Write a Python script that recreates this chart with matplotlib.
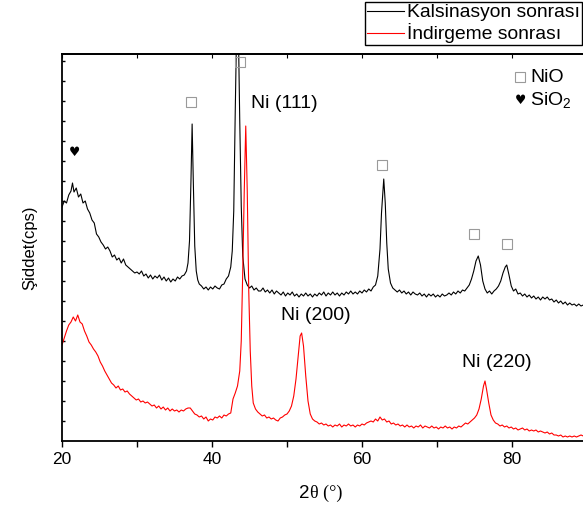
import matplotlib
matplotlib.use("Agg")
import matplotlib.pyplot as plt

plt.rcParams['font.family'] = ['Liberation Sans', 'DejaVu Sans']
plt.rcParams['mathtext.fontset'] = 'custom'
plt.rcParams['mathtext.rm'] = 'Liberation Sans'
plt.rcParams['mathtext.it'] = 'Liberation Sans'

# ---- data: Kalsinasyon sonrası (black) ----
kal_x = [20.0, 20.3, 20.6, 20.9, 21.2, 21.4, 21.6, 21.9, 22.2, 22.5, 22.8, 23.1, 23.4, 23.7, 24.0, 24.3, 24.6, 24.9,
         25.2, 25.5, 25.8, 26.1, 26.4, 26.7, 27.0, 27.3, 27.6, 27.9, 28.2, 28.5, 28.8, 29.1, 29.4, 29.7, 30.0,
         30.3, 30.6, 30.9, 31.2, 31.5, 31.8, 32.1, 32.4, 32.7, 33.0, 33.3, 33.6, 33.9, 34.2, 34.5, 34.8, 35.1,
         35.4, 35.7, 36.0, 36.3, 36.6, 36.8, 37.0, 37.2, 37.35, 37.5, 37.7, 37.9, 38.1, 38.3, 38.6, 38.9, 39.2,
         39.5, 39.8, 40.1, 40.4, 40.7, 41.0, 41.3, 41.6, 41.9, 42.2, 42.5, 42.7, 42.9, 43.1, 43.3, 43.5, 43.7,
         43.9, 44.1, 44.4, 44.7, 45.0, 45.3, 45.6, 45.9, 46.2, 46.5, 46.8, 47.1, 47.4, 47.7, 48.0, 48.3, 48.6,
         48.9, 49.2, 49.5, 49.8, 50.1, 50.4, 50.7, 51.0, 51.3, 51.6, 51.9, 52.2, 52.5, 52.8, 53.1, 53.4, 53.7,
         54.0, 54.3, 54.6, 54.9, 55.2, 55.5, 55.8, 56.1, 56.4, 56.7, 57.0, 57.3, 57.6, 57.9, 58.2, 58.5, 58.8,
         59.1, 59.4, 59.7, 60.0, 60.3, 60.6, 60.9, 61.2, 61.5, 61.8, 62.1, 62.4, 62.6, 62.9, 63.1, 63.3, 63.5,
         63.8, 64.1, 64.4, 64.7, 65.0, 65.3, 65.6, 65.9, 66.2, 66.5, 66.8, 67.1, 67.4, 67.7, 68.0, 68.3, 68.6,
         68.9, 69.2, 69.5, 69.8, 70.1, 70.4, 70.7, 71.0, 71.3, 71.6, 71.9, 72.2, 72.5, 72.8, 73.1, 73.4, 73.7,
         74.0, 74.3, 74.6, 74.9, 75.2, 75.5, 75.8, 76.1, 76.4, 76.7, 77.0, 77.3, 77.6, 77.9, 78.2, 78.5, 78.8,
         79.1, 79.3, 79.6, 79.9, 80.2, 80.5, 80.8, 81.1, 81.4, 81.7, 82.0, 82.3, 82.6, 82.9, 83.2, 83.5, 83.8,
         84.1, 84.4, 84.7, 85.0, 85.3, 85.6, 85.9, 86.2, 86.5, 86.8, 87.1, 87.4, 87.7, 88.0, 88.3, 88.6, 88.9,
         89.2, 89.5, 89.8, 90.0]
kal_y = [234, 240, 238, 246, 250, 258, 249, 253, 244, 247, 238, 240, 232, 228, 221, 218, 207, 204,
         199, 196, 192, 194, 190, 184, 186, 181, 183, 178, 182, 176, 174, 172, 170, 168, 169,
         167, 170, 165, 167, 163, 166, 162, 165, 163, 166, 161, 164, 160, 163, 159, 162, 160,
         164, 162, 165, 166, 170, 178, 200, 262, 317, 262, 195, 170, 161, 157, 155, 152, 154,
         151, 154, 152, 155, 153, 152, 156, 157, 162, 165, 174, 190, 230, 330, 420, 420, 320,
         235, 185, 162, 156, 153, 155, 151, 153, 150, 150, 153, 149, 151, 148, 151, 147, 150,
         148, 146, 149, 145, 148, 146, 149, 145, 147, 144, 147, 145, 148, 145, 147, 144, 147,
         145, 148, 146, 149, 145, 148, 146, 149, 146, 148, 145, 148, 146, 149, 147, 150, 147,
         149, 147, 150, 148, 151, 149, 152, 150, 154, 156, 165, 192, 228, 262, 238, 198, 172,
         158, 153, 151, 149, 151, 148, 150, 147, 149, 146, 149, 147, 146, 148, 145, 147, 144,
         147, 145, 147, 144, 146, 144, 147, 145, 146, 148, 146, 149, 147, 150, 148, 151, 150,
         153, 156, 162, 170, 180, 185, 176, 160, 152, 148, 150, 147, 150, 152, 155, 160, 168,
         174, 176, 166, 155, 150, 152, 147, 148, 145, 147, 144, 146, 143, 145, 142, 144, 141,
         144, 142, 144, 141, 142, 139, 141, 138, 140, 137, 139, 136, 138, 136, 137, 135, 137,
         135, 136, 134, 136]

# ---- data: İndirgeme sonrası (red) ----
ind_x = [20.0, 20.3, 20.6, 20.9, 21.2, 21.5, 21.8, 22.1, 22.4, 22.7, 23.0, 23.3, 23.6, 23.9, 24.2, 24.5, 24.8,
         25.1, 25.4, 25.7, 26.0, 26.3, 26.6, 26.9, 27.2, 27.5, 27.8, 28.1, 28.4, 28.7, 29.0, 29.3, 29.6, 29.9,
         30.2, 30.5, 30.8, 31.1, 31.4, 31.7, 32.0, 32.3, 32.6, 32.9, 33.2, 33.5, 33.8, 34.1, 34.4, 34.7, 35.0,
         35.3, 35.6, 35.9, 36.2, 36.5, 36.8, 37.1, 37.4, 37.7, 38.0, 38.3, 38.6, 38.9, 39.2, 39.5, 39.8, 40.1,
         40.4, 40.7, 41.0, 41.3, 41.6, 41.9, 42.2, 42.5, 42.8, 43.1, 43.4, 43.7, 43.9, 44.1, 44.3, 44.5, 44.7,
         44.9, 45.1, 45.3, 45.5, 45.8, 46.1, 46.4, 46.7, 47.0, 47.3, 47.6, 47.9, 48.2, 48.5, 48.8, 49.1, 49.4,
         49.7, 50.0, 50.3, 50.6, 50.9, 51.2, 51.5, 51.75, 51.95, 52.2, 52.5, 52.8, 53.1, 53.4, 53.7, 54.0, 54.3,
         54.6, 54.9, 55.2, 55.5, 55.8, 56.1, 56.4, 56.7, 57.0, 57.3, 57.6, 57.9, 58.2, 58.5, 58.8, 59.1, 59.4,
         59.7, 60.0, 60.3, 60.6, 60.9, 61.2, 61.5, 61.8, 62.1, 62.4, 62.7, 63.0, 63.3, 63.6, 63.9, 64.2, 64.5,
         64.8, 65.1, 65.4, 65.7, 66.0, 66.3, 66.6, 66.9, 67.2, 67.5, 67.8, 68.1, 68.4, 68.7, 69.0, 69.3, 69.6,
         69.9, 70.2, 70.5, 70.8, 71.1, 71.4, 71.7, 72.0, 72.3, 72.6, 72.9, 73.2, 73.5, 73.8, 74.1, 74.4, 74.7,
         75.0, 75.3, 75.6, 75.9, 76.2, 76.4, 76.6, 76.9, 77.2, 77.5, 77.8, 78.1, 78.4, 78.7, 79.0, 79.3, 79.6,
         79.9, 80.2, 80.5, 80.8, 81.1, 81.4, 81.7, 82.0, 82.3, 82.6, 82.9, 83.2, 83.5, 83.8, 84.1, 84.4, 84.7,
         85.0, 85.3, 85.6, 85.9, 86.2, 86.5, 86.8, 87.1, 87.4, 87.7, 88.0, 88.3, 88.6, 88.9, 89.2, 89.5, 89.8,
         90.0]
ind_y = [96, 103, 110, 116, 119, 124, 120, 126, 119, 117, 110, 105, 99, 96, 92, 89, 85,
         79, 75, 70, 66, 62, 58, 56, 53, 55, 51, 52, 49, 50, 47, 45, 43, 41,
         42, 39, 40, 38, 39, 37, 35, 36, 33, 35, 32, 34, 31, 33, 30, 32, 30,
         31, 29, 31, 30, 32, 33, 33, 30, 27, 26, 24, 25, 22, 24, 20, 22, 21,
         24, 23, 25, 23, 26, 25, 27, 28, 42, 48, 55, 70, 100, 170, 250, 315, 250,
         150, 90, 55, 38, 32, 29, 27, 25, 26, 23, 24, 22, 23, 21, 20, 23, 24,
         26, 27, 30, 35, 45, 62, 85, 105, 108, 95, 65, 40, 27, 22, 20, 19, 17,
         18, 16, 17, 15, 16, 14, 16, 15, 17, 14, 16, 15, 17, 15, 16, 14, 16,
         15, 17, 16, 18, 19, 20, 19, 22, 20, 24, 21, 22, 19, 20, 17, 18, 16,
         17, 15, 16, 14, 16, 14, 15, 13, 15, 14, 16, 13, 15, 14, 13, 15, 13,
         14, 12, 14, 13, 15, 13, 14, 12, 14, 13, 15, 14, 16, 18, 17, 19, 21,
         23, 26, 32, 42, 55, 60, 52, 38, 26, 21, 18, 17, 15, 16, 14, 15, 13,
         14, 12, 13, 11, 12, 13, 11, 12, 10, 11, 10, 11, 9, 10, 9, 8, 9,
         7, 8, 6, 6, 5, 6, 4, 5, 4, 5, 4, 5, 4, 5, 6, 5, 6,
         5]

series_labels = ["Kalsinasyon sonrası", "İndirgeme sonrası"]

# annotation anchors
nio_x = [37.25, 43.7, 62.7, 74.9, 79.3]
nio_y = [339, 379, 276, 207, 197]
sio2_x = [21.7]
sio2_y = [289]
ni_labels = ["Ni (111)", "Ni (200)", "Ni (220)"]
ni_x = [49.6, 53.8, 78.0]
ni_y = [337, 125, 79]

W, H = 583, 511
fig = plt.figure(figsize=(W / 100, H / 100), dpi=100)
ax = fig.add_axes([62 / W, (H - 441) / H, (587 - 62) / W, (441 - 54) / H])

l1, = ax.plot(kal_x, kal_y, color='black', lw=0.8)
l2, = ax.plot(ind_x, ind_y, color='#ff0000', lw=0.8)

ax.set_xlim(20, 90)
ax.set_ylim(0, 387)

ax.set_xticks([20, 40, 60, 80])
ax.set_xticks([30, 50, 70, 90], minor=True)
ax.set_yticks(range(20, 387, 20))
ax.tick_params(axis='x', which='both', direction='out', length=4, width=1, labelsize=12.5, pad=4, top=False)
ax.tick_params(axis='y', which='both', direction='in', length=2.5, width=1, labelleft=False, right=False)
for s in ax.spines.values():
    s.set_linewidth(1.3)

# top ticks inward
secx = ax.secondary_xaxis('top')
secx.set_xticks([20, 30, 40, 50, 60, 70, 80, 90])
secx.tick_params(direction='in', length=3, width=0.8, labeltop=False)
secx.spines['top'].set_linewidth(1.3)

ax.set_ylabel("Şiddet(cps)", fontsize=12, labelpad=18)

# x label: "2" sans + "θ (°)" serif
ax.text(0.4715, -0.135, "2", transform=ax.transAxes, fontsize=13.5, ha='right', va='center',
        family='Liberation Sans')
ax.text(0.4725, -0.135, "θ (°)", transform=ax.transAxes, fontsize=13, ha='left', va='center',
        family='Liberation Serif')

# NiO markers
ax.plot(nio_x, nio_y, linestyle='none', marker='s', ms=7, mfc='none', mec='#9a9a9a', mew=0.8, clip_on=False)
ax.text(sio2_x[0], sio2_y[0], "♥", fontsize=9, ha='center', va='center', family='DejaVu Sans')

for lab, xx, yy in zip(ni_labels, ni_x, ni_y):
    ax.text(xx, yy, lab, fontsize=14, ha='center', va='center')

# key for NiO / SiO2
ax.plot([81.1], [364], linestyle='none', marker='s', ms=7, mfc='none', mec='#9a9a9a', mew=0.8)
ax.text(82.4, 364, "NiO", fontsize=14, ha='left', va='center')
ax.text(81.1, 341, "♥", fontsize=9, ha='center', va='center', family='DejaVu Sans')
ax.text(82.4, 341, "SiO$_2$", fontsize=14, ha='left', va='center')

leg = fig.legend([l1, l2], series_labels, loc='upper left', bbox_to_anchor=(365 / W, 1 - 2 / H),
                 fontsize=13.9, frameon=True, fancybox=False, edgecolor='black', framealpha=1,
                 labelspacing=0.1, borderpad=0.1, handlelength=1.9, handletextpad=0.2,
                 borderaxespad=0)
leg.get_frame().set_linewidth(1.0)

fig.savefig("out.png", dpi=100)
